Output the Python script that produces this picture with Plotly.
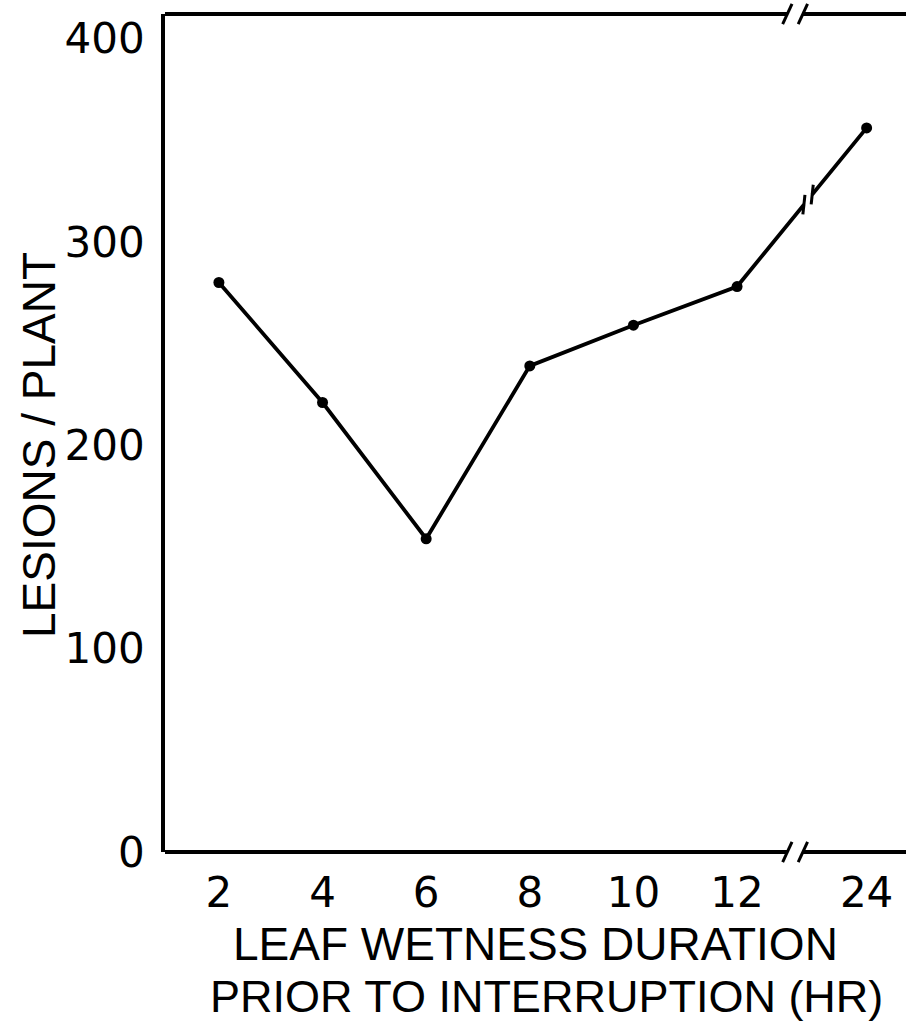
import numpy as np
import plotly.graph_objects as go

# Leaf wetness duration (hr) before interruption and resulting lesions per plant
durations = ["2", "4", "6", "8", "10", "12", "24"]
lesions = [280, 221, 154, 239, 259, 278, 356]

# Horizontal placement of each duration; 24 h sits past the axis break
x_pos = [2, 4, 6, 8, 10, 12, 14.5]

y_ticks = [0, 100, 200, 300, 400]

X_RANGE = [0.96, 15.26]
Y_RANGE = [0, 412]
AXIS_BREAK_X = 13.12      # position of the // on the top and bottom axes
LINE_BREAK_X = 13.37      # position of the // on the 12 -> 24 segment

INK = "black"
LW = 3.8

fig = go.Figure()

fig.add_trace(go.Scatter(
    x=x_pos, y=lesions, mode="lines+markers",
    line=dict(color=INK, width=LW),
    marker=dict(color=INK, size=11),
    hoverinfo="skip", showlegend=False,
))

shapes = []


def seg(x0, y0, x1, y1, xref="x", yref="y", color=INK, width=LW):
    shapes.append(dict(type="line", x0=x0, y0=y0, x1=x1, y1=y1,
                       xref=xref, yref=yref,
                       line=dict(color=color, width=width)))


# top and bottom frame lines, each interrupted by a break
gap = 0.15
for yy in (0, 1):
    seg(X_RANGE[0], yy, AXIS_BREAK_X - gap, yy, yref="paper")
    seg(AXIS_BREAK_X + gap, yy, X_RANGE[1], yy, yref="paper")
    for dx in (-gap, gap):
        seg(AXIS_BREAK_X + dx - 0.09, yy - 0.012,
            AXIS_BREAK_X + dx + 0.09, yy + 0.012, yref="paper", width=3)

# break drawn on the segment between 12 h and 24 h
seg_x = x_pos[-2:]
seg_y = lesions[-2:]
hw = 0.08
xa, xb = LINE_BREAK_X - hw, LINE_BREAK_X + hw
ya, yb = np.interp([xa, xb], seg_x, seg_y)
seg(xa, ya, xb, yb, color="white", width=9)
for xx, yy in ((xa, ya), (xb, yb)):
    seg(xx - 0.02, yy - 4.8, xx + 0.02, yy + 4.8, width=3)

fig.update_layout(
    width=906, height=1022,
    margin=dict(l=165, r=0, t=14, b=170),
    paper_bgcolor="white", plot_bgcolor="white",
    shapes=shapes,
    font=dict(family="DejaVu Sans", color=INK),
    xaxis=dict(
        range=X_RANGE, tickvals=x_pos, ticktext=durations,
        showgrid=False, zeroline=False, showline=False, ticks="",
        tickfont=dict(size=42, family="DejaVu Sans"),
        ticklabelstandoff=12,
    ),
    yaxis=dict(
        range=Y_RANGE, tickvals=y_ticks,
        showgrid=False, zeroline=False, showline=True,
        linecolor=INK, linewidth=LW, ticks="",
        tickfont=dict(size=42, family="DejaVu Sans"),
        ticklabelstandoff=8,
    ),
    annotations=[
        dict(text="LESIONS / PLANT", textangle=-90,
             xref="paper", yref="paper", x=-0.171, y=0.486,
             xanchor="center", yanchor="middle", showarrow=False,
             font=dict(size=46, family="Liberation Sans")),
        dict(text="LEAF WETNESS DURATION",
             xref="paper", yref="paper", x=0.5, y=-0.11,
             xanchor="center", yanchor="middle", showarrow=False,
             font=dict(size=46, family="Liberation Sans")),
        dict(text="PRIOR TO INTERRUPTION (HR)",
             xref="paper", yref="paper", x=0.515, y=-0.173,
             xanchor="center", yanchor="middle", showarrow=False,
             font=dict(size=45, family="Liberation Sans")),
    ],
)

fig.write_html("out.html")
